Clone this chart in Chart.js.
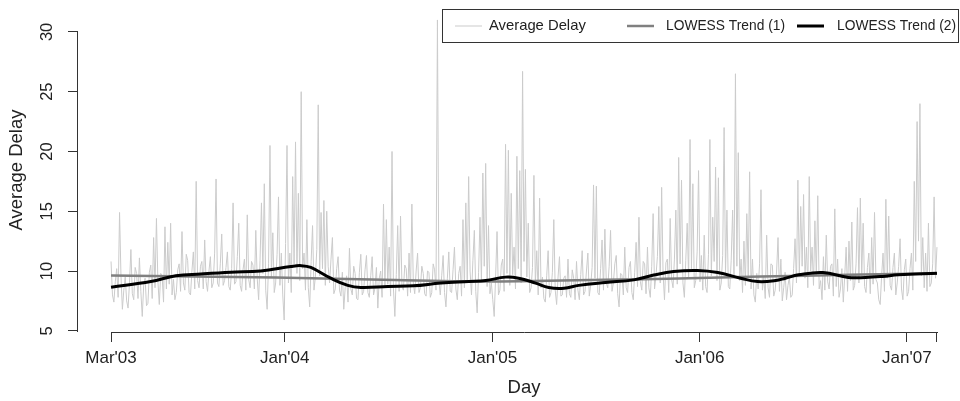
<!DOCTYPE html>
<html>
<head>
<meta charset="utf-8">
<script src="https://cdn.jsdelivr.net/npm/chart.js@4.4.0/dist/chart.umd.min.js"></script>
<style>
  html, body { margin: 0; padding: 0; background: #fff; overflow: hidden; }
  #wrap { width: 970px; height: 401px; }
</style>
</head>
<body>
<div id="wrap"><canvas id="delayChart" width="970" height="401"></canvas></div>
<script>
// daily average delay, read every 2.5 days starting 1 Mar 2003
var startDate = '2003-03-01';
var stepDays = 2.5;
var delayValues = [
  10.8, 8.0, 7.4, 9.1, 10.2, 7.8, 14.9, 9.6, 6.8, 8.4, 9.5, 7.5, 6.9, 9.0, 11.8, 8.1, 7.6, 10.3, 9.8, 7.7,
  11.1, 8.3, 6.2, 8.8, 9.4, 7.1, 7.3, 9.9, 10.5, 7.7, 12.8, 8.6, 14.4, 9.2, 7.2, 9.8, 9.6, 7.4, 13.7, 8.5,
  12.4, 8.9, 14.0, 8.0, 9.3, 7.6, 8.2, 10.1, 10.6, 8.3, 13.3, 9.0, 8.4, 11.4, 10.9, 8.2, 8.0, 10.0, 11.6, 8.5,
  17.5, 9.2, 8.6, 10.4, 10.8, 8.5, 12.6, 9.1, 8.3, 10.0, 11.2, 8.6, 9.0, 11.5, 17.7, 9.0, 8.7, 10.6, 13.1, 8.8,
  9.2, 10.3, 11.6, 8.7, 8.4, 10.2, 15.7, 8.9, 9.1, 11.2, 14.0, 8.8, 8.3, 10.1, 11.0, 8.4, 14.7, 9.3, 8.6, 10.8,
  10.5, 8.5, 13.4, 9.4, 7.6, 10.9, 15.7, 9.8, 17.3, 8.4, 6.8, 10.6, 20.5, 9.5, 13.2, 8.2, 9.0, 11.4, 16.2, 8.8,
  11.5, 8.0, 5.9, 12.3, 20.5, 9.0, 11.5, 8.2, 17.9, 10.6, 20.8, 9.8, 16.5, 9.2, 25.0, 10.2, 11.5, 8.4, 14.3, 8.6,
  7.0, 10.8, 13.8, 8.4, 9.5, 11.8, 23.9, 9.6, 14.9, 10.2, 15.9, 8.8, 15.0, 10.4, 9.0, 11.0, 12.8, 8.1, 8.5, 10.2,
  11.2, 8.4, 7.9, 9.9, 6.8, 8.6, 9.6, 7.4, 11.9, 8.5, 8.0, 10.4, 9.8, 7.7, 7.6, 9.9, 11.4, 8.0, 8.3, 10.1,
  11.3, 8.2, 7.8, 9.6, 11.2, 8.0, 8.6, 10.3, 6.9, 9.4, 10.0, 7.8, 15.6, 8.6, 14.3, 8.9, 12.0, 7.9, 20.0, 8.5,
  6.2, 9.7, 13.8, 8.3, 14.6, 8.7, 8.4, 10.5, 10.2, 7.9, 11.5, 8.2, 15.6, 9.0, 8.1, 10.0, 11.5, 8.2, 8.6, 10.4,
  9.8, 8.1, 7.9, 10.0, 9.9, 7.8, 8.2, 10.6, 10.1, 8.4, 31.0, 9.2, 8.0, 9.6, 11.3, 8.2, 7.0, 9.4, 11.6, 8.3,
  8.2, 10.1, 12.0, 8.5, 7.6, 9.8, 10.4, 7.9, 14.3, 8.6, 15.7, 9.2, 17.9, 10.0, 8.0, 10.9, 13.4, 8.3, 6.5, 9.9,
  14.5, 9.1, 18.2, 10.4, 19.0, 8.7, 13.8, 8.1, 9.0, 7.6, 6.2, 9.5, 13.3, 8.0, 8.4, 10.5, 11.0, 8.3, 20.6, 9.8,
  20.1, 8.8, 16.5, 9.7, 12.0, 8.5, 19.6, 10.2, 18.4, 9.0, 26.7, 10.8, 18.5, 9.5, 14.0, 8.2, 8.6, 10.3, 18.0, 8.9,
  11.7, 8.0, 16.1, 8.6, 9.5, 7.7, 7.4, 9.6, 11.7, 7.8, 8.2, 9.9, 14.3, 8.4, 7.2, 9.5, 11.2, 7.9, 8.0, 9.4,
  9.6, 7.8, 11.0, 8.1, 7.8, 10.1, 9.4, 7.6, 10.8, 8.4, 7.6, 9.7, 11.7, 8.0, 8.3, 10.0, 11.5, 7.9, 8.8, 10.3,
  17.2, 9.4, 17.1, 8.2, 8.0, 10.2, 12.6, 8.4, 13.5, 9.0, 8.6, 10.4, 13.4, 8.3, 9.0, 10.6, 11.3, 8.1, 7.0, 9.8,
  9.7, 8.0, 12.0, 8.6, 8.2, 10.3, 10.8, 8.2, 7.6, 9.9, 12.4, 8.7, 14.5, 9.1, 8.4, 10.8, 10.6, 8.1, 12.0, 8.6,
  7.8, 10.4, 14.8, 8.5, 9.6, 11.2, 15.4, 9.0, 17.0, 9.8, 7.6, 10.7, 11.0, 8.2, 14.4, 9.3, 8.6, 11.0, 15.1, 8.9,
  19.5, 10.6, 17.6, 9.0, 7.8, 10.9, 14.0, 9.4, 21.0, 10.2, 17.3, 8.6, 9.2, 11.6, 18.4, 9.1, 11.3, 8.4, 13.0, 8.7,
  8.2, 11.4, 21.0, 9.6, 14.5, 10.8, 18.7, 9.2, 17.8, 8.4, 9.0, 11.3, 22.0, 9.8, 15.1, 8.7, 8.5, 10.9, 15.1, 9.4,
  26.5, 10.4, 19.9, 9.2, 11.0, 8.2, 12.5, 8.8, 14.8, 9.6, 18.3, 8.5, 11.0, 8.0, 7.4, 9.8, 8.5, 10.6, 16.8, 8.4,
  9.5, 7.7, 13.0, 8.6, 7.8, 10.6, 10.5, 7.9, 8.4, 10.0, 12.8, 8.3, 11.0, 7.5, 8.6, 9.9, 7.6, 8.8, 9.5, 7.8,
  8.0, 10.2, 12.7, 9.0, 17.6, 9.6, 15.4, 10.4, 16.4, 9.4, 12.0, 8.6, 17.9, 10.0, 12.0, 8.8, 14.2, 9.6, 16.3, 8.5,
  9.2, 7.6, 11.2, 8.4, 13.0, 9.1, 8.5, 10.4, 10.6, 7.9, 15.2, 8.7, 11.0, 7.8, 8.5, 10.2, 7.4, 9.6, 12.0, 8.3,
  12.5, 9.2, 14.1, 8.4, 8.8, 10.6, 15.3, 9.0, 16.1, 9.6, 14.0, 8.7, 8.2, 10.3, 11.5, 8.1, 12.8, 8.9, 14.9, 9.3,
  9.0, 7.6, 7.2, 9.6, 11.5, 8.3, 16.0, 9.4, 14.6, 8.8, 8.4, 10.3, 11.5, 8.0, 9.0, 10.4, 12.7, 8.5, 7.6, 10.1,
  11.0, 7.9, 8.3, 10.2, 11.5, 8.4, 17.5, 10.8, 22.5, 12.5, 24.0, 9.6, 12.8, 8.6, 11.5, 8.3, 14.0, 8.7, 9.0, 10.6,
  16.2, 9.4, 12.0
];

// LOWESS trends, day number since 1 Mar 2003
var trend1Days = [0, 290, 500, 620, 720, 870, 1000, 1145, 1300, 1455];
var trend1Values = [9.63, 9.46, 9.25, 9.14, 9.15, 9.26, 9.38, 9.54, 9.68, 9.8];

var trend2Days = [0, 70, 114, 158, 211, 264, 317, 335, 352, 387, 417, 440, 488, 533, 581, 630, 660, 695, 718, 748, 771, 798, 824, 871, 921, 956, 991, 1033, 1069, 1109, 1139, 1171, 1188, 1211, 1254, 1299, 1329, 1359, 1387, 1455];
var trend2Values = [8.64, 9.12, 9.6, 9.75, 9.9, 10.0, 10.38, 10.45, 10.3, 9.4, 8.8, 8.62, 8.7, 8.76, 8.99, 9.12, 9.2, 9.49, 9.4, 8.99, 8.62, 8.56, 8.8, 9.04, 9.26, 9.66, 9.96, 10.05, 9.88, 9.4, 9.12, 9.2, 9.4, 9.68, 9.88, 9.46, 9.46, 9.55, 9.68, 9.82];

var tickDays = [0, 306, 672, 1037, 1402, 1455];
var tickLabels = ["Mar'03", "Jan'04", "Jan'05", "Jan'06", "Jan'07", ""];
var yTicks = [5, 10, 15, 20, 25, 30];

var seriesNames = ["Average Delay", "LOWESS Trend (1)", "LOWESS Trend (2)"];

function toPoints(xs, ys) {
    var pts = [];
    for (var i = 0; i < ys.length; i++) {
        pts.push({x: xs[i], y: ys[i]});
    }
    return pts;
}

function delayPoints() {
    var pts = [];
    for (var i = 0; i < delayValues.length; i++) {
        pts.push({x: i * stepDays, y: delayValues[i]});
    }
    return pts;
}

// R-style axes (lines only span the ticks) and a boxed legend inside the plot
var rStylePlugin = {
    id: 'rStyle',
    afterDraw: function (chart) {
        var ctx = chart.ctx;
        var xs = chart.scales.x;
        var ys = chart.scales.y;
        var area = chart.chartArea;

        ctx.save();
        ctx.strokeStyle = '#333';
        ctx.lineWidth = 1;
        ctx.beginPath();
        var yb = Math.round(area.bottom) + 0.5;
        ctx.moveTo(Math.round(xs.getPixelForValue(tickDays[0])), yb);
        ctx.lineTo(Math.round(xs.getPixelForValue(tickDays[tickDays.length - 1])) + 1, yb);
        var xl = Math.round(area.left) - 0.5;
        ctx.moveTo(xl, Math.round(ys.getPixelForValue(yTicks[0])) + 1);
        ctx.lineTo(xl, Math.round(ys.getPixelForValue(yTicks[yTicks.length - 1])));
        ctx.stroke();

        // y tick labels, rotated like R
        ctx.fillStyle = '#222';
        ctx.font = '16.5px "Liberation Sans", Arial, sans-serif';
        ctx.textAlign = 'center';
        ctx.textBaseline = 'middle';
        for (var i = 0; i < yTicks.length; i++) {
            var py = ys.getPixelForValue(yTicks[i]);
            ctx.save();
            ctx.translate(47, py);
            ctx.rotate(-Math.PI / 2);
            ctx.fillText(String(yTicks[i]), 0, 0);
            ctx.restore();
        }

        // legend
        var box = {left: 442.5, top: 9.5, right: 958.5, bottom: 42.5};
        ctx.strokeStyle = '#333';
        ctx.lineWidth = 1;
        ctx.fillStyle = '#fff';
        ctx.fillRect(box.left, box.top, box.right - box.left, box.bottom - box.top);
        ctx.strokeRect(box.left, box.top, box.right - box.left, box.bottom - box.top);
        var lineX = [455, 627, 797];
        var textX = [489, 666, 837];
        var midY = 26;
        ctx.font = '14.8px "Liberation Sans", Arial, sans-serif';
        ctx.textAlign = 'left';
        ctx.textBaseline = 'middle';
        var sets = chart.data.datasets;
        for (var k = 0; k < sets.length; k++) {
            ctx.strokeStyle = sets[k].borderColor;
            ctx.lineWidth = sets[k].borderWidth;
            ctx.beginPath();
            ctx.moveTo(lineX[k], midY);
            ctx.lineTo(lineX[k] + 27, midY);
            ctx.stroke();
            ctx.fillStyle = '#222';
            ctx.fillText(sets[k].label, textX[k], midY, 119);
        }
        ctx.restore();
    }
};

function makeChart() {
    var canvas = document.getElementById('delayChart');
    var lastDay = tickDays[tickDays.length - 1];
    var pad = lastDay * 0.04;

    var dataDelay = {
        label: seriesNames[0],
        data: delayPoints(),
        borderColor: '#cbcbcb',
        borderWidth: 1,
        pointRadius: 0,
        tension: 0,
        order: 3
    };
    var dataTrend1 = {
        label: seriesNames[1],
        data: toPoints(trend1Days, trend1Values),
        borderColor: '#808080',
        borderWidth: 2.5,
        pointRadius: 0,
        tension: 0.4,
        order: 2
    };
    var dataTrend2 = {
        label: seriesNames[2],
        data: toPoints(trend2Days, trend2Values),
        borderColor: '#000000',
        borderWidth: 3,
        pointRadius: 0,
        tension: 0.4,
        order: 1
    };

    new Chart(canvas, {
        type: 'line',
        data: {datasets: [dataDelay, dataTrend1, dataTrend2]},
        options: {
            responsive: false,
            animation: false,
            layout: {padding: {top: 8, right: 0, left: 0, bottom: 0}},
            plugins: {
                legend: {display: false},
                tooltip: {enabled: false}
            },
            scales: {
                x: {
                    type: 'linear',
                    min: -pad,
                    max: lastDay + pad,
                    afterBuildTicks: function (scale) {
                        scale.ticks = tickDays.map(function (d) { return {value: d}; });
                    },
                    afterFit: function (scale) { scale.height = 69; },
                    grid: {display: true, drawOnChartArea: false, drawTicks: true, tickLength: 10, color: '#333'},
                    border: {display: false},
                    ticks: {
                        autoSkip: false,
                        maxRotation: 0,
                        padding: 6,
                        color: '#222',
                        font: {family: '"Liberation Sans", Arial, sans-serif', size: 17},
                        callback: function (value, index) { return tickLabels[index]; }
                    },
                    title: {
                        display: true,
                        text: 'Day',
                        color: '#222',
                        padding: {top: 0, bottom: 2},
                        font: {family: '"Liberation Sans", Arial, sans-serif', size: 18.5}
                    }
                },
                y: {
                    min: 4.9,
                    max: 32,
                    afterBuildTicks: function (scale) {
                        scale.ticks = yTicks.map(function (v) { return {value: v}; });
                    },
                    afterFit: function (scale) { scale.width = 78; },
                    grid: {display: true, drawOnChartArea: false, drawTicks: true, tickLength: 10, color: '#333'},
                    border: {display: false},
                    ticks: {display: false},
                    title: {
                        display: true,
                        text: 'Average Delay',
                        color: '#222',
                        padding: {top: 6, bottom: 0},
                        font: {family: '"Liberation Sans", Arial, sans-serif', size: 18.5}
                    }
                }
            }
        },
        plugins: [rStylePlugin]
    });
}

document.addEventListener('DOMContentLoaded', makeChart);
</script>
</body>
</html>
